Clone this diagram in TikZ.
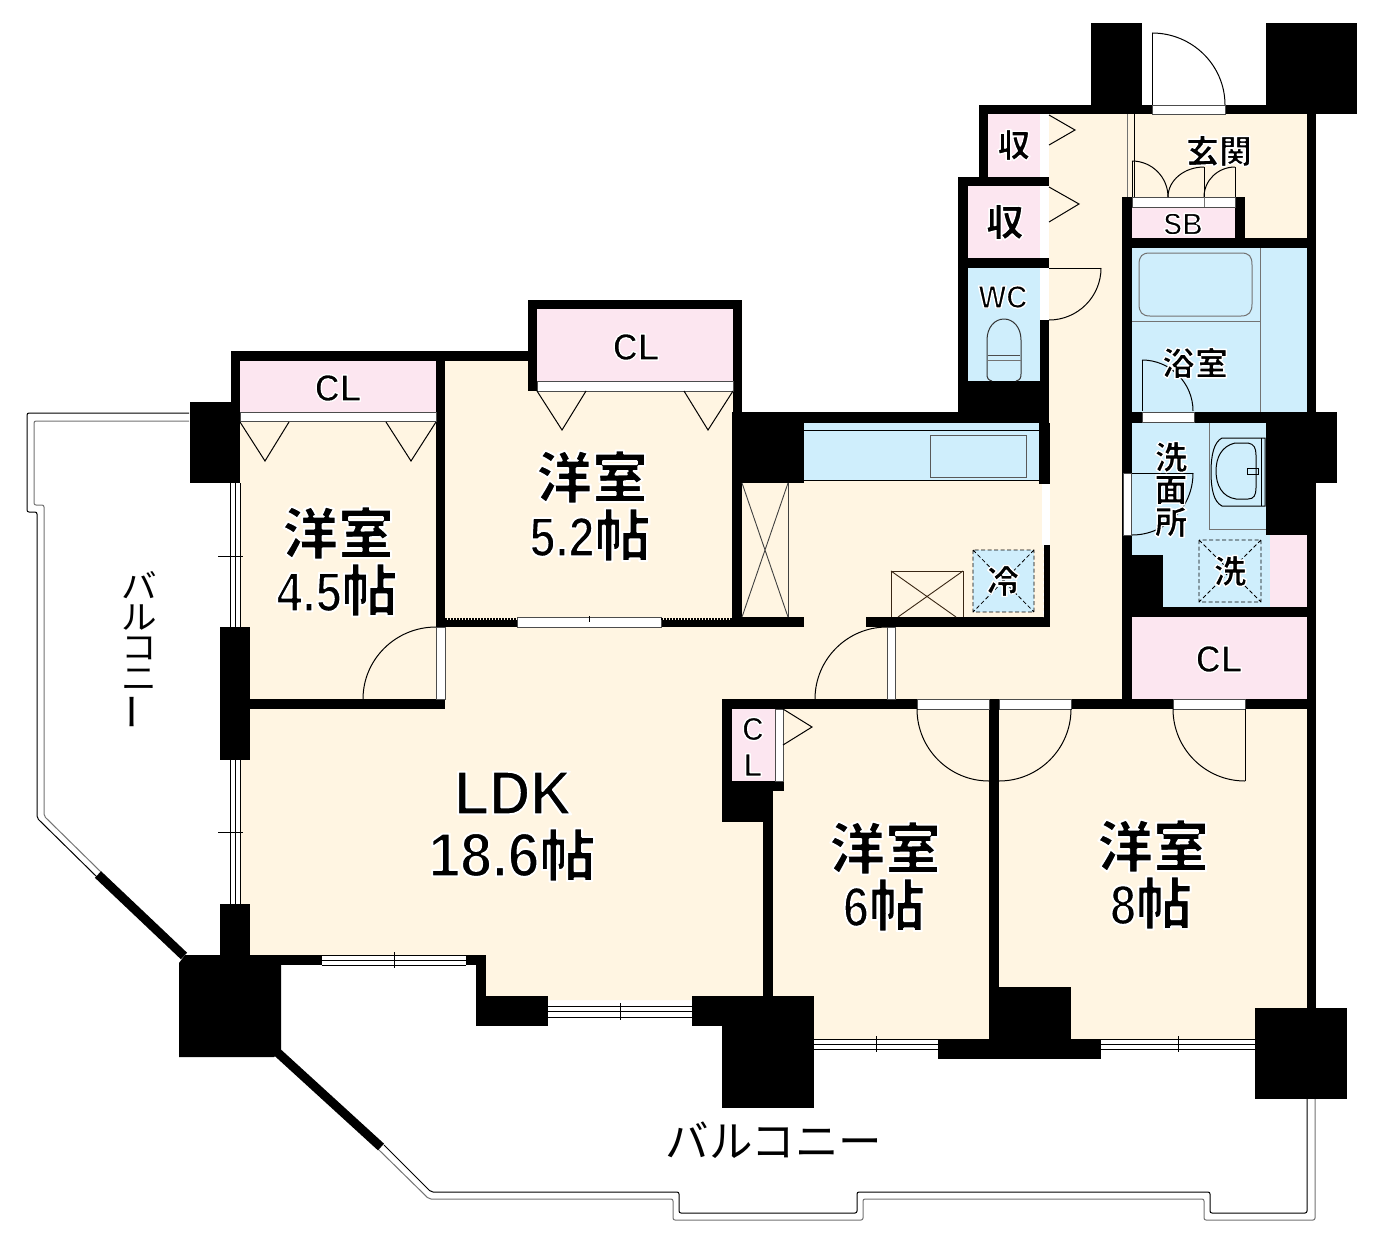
\documentclass[tikz,border=0pt]{standalone}
\usepackage{fontspec}
\usetikzlibrary{calc}
\newfontfamily\jpf{Noto Sans CJK JP}
\newfontfamily\latf[FakeStretch=0.84]{Liberation Sans}
\newfontfamily\latg[FakeStretch=0.92]{Liberation Sans}
\definecolor{creamc}{HTML}{FFF5E2}
\definecolor{pinkc}{HTML}{FCE6F0}
\definecolor{bluec}{HTML}{CFEEFC}
\tikzset{
  wall/.style={fill=black,draw=none},
  opening/.style={fill=white,draw=black!70,line width=.5pt},
  thinln/.style={draw=black,line width=1pt},
  greyln/.style={draw=black!55,line width=1pt},
  rail/.style={draw=black,line width=1pt,rounded corners=2pt},
  railg/.style={draw=black!55,line width=1pt,rounded corners=2pt},
  big/.style={inner sep=0pt,font=\jpf\bfseries\fontsize{56}{56}\selectfont},
  small/.style={inner sep=0pt,font=\jpf\bfseries\fontsize{33}{33}\selectfont},
}
\newcommand\wl[4]{\fill[wall] (#1,#2) rectangle (#3,#4);}
\newcommand\hv[4]{\draw[thinln] (#1,#2) .. controls ($(#1,#2)!0.552!(#3,#2)$) and ($(#3,#4)!0.552!(#3,#2)$) .. (#3,#4);}
\newcommand\wh[4]{\fill[white] (#1,#2) rectangle (#3,#4);\draw[thinln,line width=.8pt] (#1,#2) -- (#3,#2) (#1,#4) -- (#3,#4) (#1,{(#2+#4)/2}) -- (#3,{(#2+#4)/2});}
\newcommand\wv[4]{\fill[white] (#1,#2) rectangle (#3,#4);\draw[thinln,line width=.8pt] (#1,#2) -- (#1,#4) (#3,#2) -- (#3,#4) ({(#1+#3)/2},#2) -- ({(#1+#3)/2},#4);}
% one copy of the text: black fill with a white stroke round it
\newcommand\hal[2]{\special{pdf:code 1 j 2 Tr 1 1 1 RG #1 w}#2\special{pdf:code 0 Tr 0 j 0 0 0 RG 1 w}}
\newcommand\hlb[1]{\hal{2.0}{#1}}
\newcommand\hls[1]{\hal{1.4}{#1}}
\newcommand\numh[2]{{\latf\bfseries\fontsize{#1}{#1}\selectfont #2}}
\newcommand\numg[2]{{\latg\bfseries\fontsize{#1}{#1}\selectfont #2}}
\newcommand\widek[1]{\scalebox{1.08}[1]{#1}}
\begin{document}
\begin{tikzpicture}[x=1pt,y=-1pt]
\useasboundingbox (0,0) rectangle (1391,1239);
\fill[white] (0,0) rectangle (1391,1239);
% floor
\fill[creamc] (240,360) -- (528,360) -- (528,300) -- (742,300) -- (742,412) -- (1049,412) -- (1049,105) -- (1316,105) -- (1316,1040) -- (814,1040) -- (814,1000) -- (476,1000) -- (476,960) -- (240,960) -- cycle;
% pink rooms
\fill[pinkc] (988,114) rectangle (1040,177);
\fill[pinkc] (968,186) rectangle (1040,258);
\fill[pinkc] (1132,207) rectangle (1235,238);
\fill[pinkc] (240,361) rectangle (436,412);
\fill[pinkc] (537,309) rectangle (733,381);
\fill[pinkc] (732,709) rectangle (775,781);
\fill[pinkc] (1132,617) rectangle (1307,699);
% blue rooms
\fill[bluec] (968,268) rectangle (1040,381);
\fill[bluec] (1132,248) rectangle (1307,412);
\fill[bluec] (1132,423) rectangle (1307,607);
\fill[pinkc] (1270,535) rectangle (1307,607);
\fill[bluec] (804,423) rectangle (1039,480);
\fill[bluec] (973,550) rectangle (1034,612);
% balcony rails
\draw[rail] (189,413) -- (27,413) -- (27,512) -- (37,512) -- (37,818) -- (97,877);
\draw[railg] (189,421) -- (34,421) -- (34,505) -- (44,505) -- (44,816) -- (101,872);
\draw[rail] (384,1145) -- (431,1192) -- (679,1192) -- (679,1213) -- (857,1213) -- (857,1192) -- (1210,1192) -- (1210,1213) -- (1307,1213) -- (1307,1099);
\draw[railg] (378,1149) -- (429,1199) -- (673,1199) -- (673,1220) -- (863,1220) -- (863,1199) -- (1204,1199) -- (1204,1220) -- (1315,1220) -- (1315,1099);
\draw[line width=9pt] (98,874.5) -- (184,956);
\draw[line width=9pt] (277,1052) -- (381,1147);
% windows
\wv{230}{483}{240}{627}
\wv{230}{760}{240}{904}
\draw[thinln] (218,556) -- (243,556) (218,832) -- (243,832);
\wh{322}{955}{466}{965}
\draw[thinln] (394,952) -- (394,968);
\wh{547}{1006}{692}{1017}
\draw[thinln] (620,1003) -- (620,1020);
\wh{814}{1039}{938}{1049}
\draw[thinln] (876,1036) -- (876,1052);
\wh{1101}{1039}{1256}{1049}
\draw[thinln] (1178,1036) -- (1178,1052);
% walls
\wl{979}{105}{1091}{114}
\wl{1091}{23}{1142}{114}
\wl{1142}{105}{1266}{114}
\wl{1266}{23}{1357}{114}
\wl{979}{105}{988}{177}
\wl{958}{177}{1049}{186}
\wl{958}{177}{968}{413}
\wl{958}{258}{1049}{268}
\wl{958}{381}{1049}{413}
\wl{1040}{320}{1049}{413}
\wl{732}{412}{1049}{423}
\wl{732}{412}{804}{483}
\wl{732}{412}{742}{627}
\wl{1039}{423}{1049.5}{484}
\wl{1044}{545}{1049.5}{627}
\wl{866}{617}{1049.5}{627}
\wl{732}{617}{804}{627}
\wl{733}{300}{742}{412}
\wl{528}{300}{742}{309}
\wl{528}{300}{537}{391}
\wl{231}{351}{528}{361}
\wl{231}{351}{240}{412}
\wl{189.5}{402}{240}{483}
\wl{436}{351}{445}{627}
\wl{220}{699}{445}{709}
\wl{445}{620}{517}{627}
\wl{661}{620}{733}{627}
\wl{220}{627}{250}{760}
\wl{220}{904}{250}{957}
\fill[wall] (185,955) -- (281,955) -- (281,1050) -- (274,1057) -- (179,1057) -- (179,963) -- cycle;
\wl{281}{955}{322}{965}
\wl{466}{955}{486}{965}
\wl{476}{955}{486}{996}
\wl{476}{996}{547.5}{1026}
\wl{692}{996}{722}{1026}
\wl{722}{996}{814}{1108}
\wl{763}{822}{773}{996}
\wl{722}{791}{773}{822}
\wl{722}{699}{732}{791}
\wl{722}{781}{784}{791}
\wl{722}{699}{1316}{709}
\wl{989}{699}{999}{1000}
\wl{989}{987}{1071}{1040}
\wl{938}{1039}{1101}{1059}
\wl{1255}{1008}{1347}{1099}
\wl{1307}{105}{1316}{1008}
\wl{1122}{197}{1132}{709}
\wl{1122}{197}{1132}{238}
\wl{1235}{197}{1245}{238}
\wl{1122}{238}{1316}{248}
\wl{1122}{412}{1316}{423}
\wl{1122}{607}{1316}{617}
\wl{1266}{412}{1337}{483}
\wl{1266}{483}{1316}{535}
\wl{1132}{555}{1163}{607}
% openings
\fill[opening] (1152,105) rectangle (1225,114);
\fill[white] (1040,114) rectangle (1049,177);
\fill[white] (1040,186) rectangle (1049,258);
\fill[white] (1040,268) rectangle (1049,320);
\filldraw[opening] (1132,197) rectangle (1235,207);
\draw[greyln] (1204,197) -- (1204,207);
\filldraw[opening] (240,412) rectangle (436,421);
\filldraw[opening] (537,381) rectangle (733,391);
\filldraw[opening] (436,627) rectangle (445,699);
\filldraw[opening] (517,617) rectangle (661,627);
\draw[thinln,line width=.8pt] (589,616) -- (589,622);
\draw[black,line width=2.5pt,dash pattern=on 1.5pt off 1.5pt] (445,619) -- (517,619) (661,619) -- (733,619);
\fill[white] (1042,484) rectangle (1049.5,545);
\draw[white,line width=1pt,dashed] (1043,545) -- (1043,617);
\filldraw[opening] (1142,412) rectangle (1194,422);
\filldraw[opening] (1123.5,473) rectangle (1131.5,535);
\filldraw[opening] (775,709) rectangle (783,781);
\filldraw[opening] (917,699) rectangle (989,709);
\filldraw[opening] (999,699) rectangle (1071,709);
\filldraw[opening] (1173,699) rectangle (1245,709);
\filldraw[opening] (887,627) rectangle (895,699);
% doors
\draw[thinln] (1152,33) -- (1152,105);
\hv{1152}{33}{1225}{105}
\draw[thinln] (1049,268) -- (1101,268);
\hv{1049}{320}{1101}{268}
\draw[greyln] (1127,114) -- (1127,197);
\draw[thinln] (1134,114) -- (1134,197);
\draw[thinln] (1132,161) -- (1132,197) (1204,167) -- (1204,197) (1235,167) -- (1235,197);
\hv{1132}{161}{1168}{197}
\hv{1204}{167}{1168}{197}
\hv{1235}{167}{1204}{197}
\draw[thinln] (1142,411) -- (1142,360);
\hv{1142}{360}{1193}{411}
\draw[thinln] (1132,473) -- (1193,473);
\hv{1132}{535}{1193}{473}
\hv{887}{627}{815}{699}
\hv{436}{627}{363}{699}
\hv{989}{781}{917}{709}
\hv{999}{781}{1071}{709}
\hv{1245}{781}{1173}{709}
\draw[thinln] (1245,709) -- (1245,781);
% closet arrows
\draw[thinln] (1049,115) -- (1075,130) -- (1049,145);
\draw[thinln] (1049,187) -- (1079,204) -- (1049,222);
\draw[thinln] (240,422) -- (265,461) -- (289,422);
\draw[thinln] (386,422) -- (411,461) -- (436,422);
\draw[thinln] (537,391) -- (562,430) -- (586,391);
\draw[thinln] (684,391) -- (708,430) -- (733,391);
\draw[thinln] (783,709) -- (812,727) -- (783,745);
% bath
\draw[greyln] (1132,321) -- (1260,321);
\draw[greyln] (1260,248) -- (1260,412);
\draw[greyln] (1139,265) .. controls (1139,256) and (1142,253) .. (1150,253) -- (1241,253) .. controls (1249,253) and (1252,256) .. (1252,265) -- (1252,304) .. controls (1252,312) and (1249,316) .. (1241,316) -- (1150,316) .. controls (1142,316) and (1139,312) .. (1139,304) -- cycle;
% toilet
\draw[thinln,draw=black!80] (992,381) .. controls (988,380) and (987,378) .. (987,374) -- (987,340) .. controls (987,327) and (995,319) .. (1004,319) .. controls (1013,319) and (1021,327) .. (1021,340) -- (1021,374) .. controls (1021,378) and (1020,380) .. (1016,381);
\draw[greyln] (987,360) -- (1021,360);
\draw[thinln,draw=black!70] (988,355) -- (1020,355);
% kitchen
\draw[thinln] (804,430) -- (1039,430);
\draw[thinln] (804,480) -- (1039,480);
\draw[draw=black!65,line width=1pt] (930.5,435) rectangle (1026,477);
\draw[black!75,line width=.9pt] (788,483) -- (788,617);
\draw[black!75,line width=.9pt] (742,483) -- (788,617) (788,483) -- (742,617);
\draw[draw=black!70!brown,line width=1pt] (891,617) -- (891,571) -- (963,571) -- (963,617);
\draw[draw=black!70!brown,line width=.9pt] (891,571) -- (956,617) (963,571) -- (898,617);
\draw[black,line width=.8pt,dash pattern=on 4pt off 2.5pt] (973,550) rectangle (1034,612) (973,550) -- (1034,612) (1034,550) -- (973,612);
% washroom
\draw[greyln] (1209,423) -- (1209,529) -- (1266,529);
\draw[thinln] (1265,438) -- (1222,438) .. controls (1214,442) and (1211,455) .. (1211,472) .. controls (1211,490) and (1214,502) .. (1222,506) -- (1265,506) -- cycle;
\draw[thinln] (1261,438) -- (1261,506);
\draw[thinln] (1235,443) -- (1248,443) .. controls (1254,444) and (1256,448) .. (1256,455) -- (1256,488) .. controls (1256,495) and (1254,499) .. (1248,499) -- (1236,499) .. controls (1222,497) and (1216,485) .. (1216,471) .. controls (1216,457) and (1222,446) .. (1235,443) -- cycle;
\draw[thinln] (1247,468) rectangle (1258,474);
\draw[black,line width=.8pt,dash pattern=on 4pt off 2.5pt] (1199,540) rectangle (1261,602) (1199,540) -- (1261,602) (1261,540) -- (1199,602);
% labels
\node[big] (r45a) at (338,533) {\hlb{洋室}};
\node[big] (r45b) at (337,590) {\hlb{\numh{56}{4.5}帖}};
\node[big] (r52a) at (592,477) {\hlb{洋室}};
\node[big] (r52b) at (590,535) {\hlb{\numh{56}{5.2}帖}};
\node[big] (ldka) at (513,793) {\hlb{\numg{62}{LDK}}};
\node[big] (ldkb) at (512,855) {\hlb{\numg{62}{18.6}帖}};
\node[big] (r6a) at (885,848) {\hlb{洋室}};
\node[big] (r6b) at (884,905) {\hlb{\numh{56}{6}帖}};
\node[big] (r8a) at (1153,846) {\hlb{洋室}};
\node[big] (r8b) at (1151,903) {\hlb{\numh{56}{8}帖}};
\node[small] (cl1) at (338,388) {\hls{\numg{38}{CL}}};
\node[small] (cl2) at (636,347) {\hls{\numg{38}{CL}}};
\node[small] (cl3) at (1219,659) {\hls{\numg{38}{CL}}};
\node[small] (shu1) at (1014,145) {\hls{収}};
\node[small,font=\jpf\bfseries\fontsize{38}{38}\selectfont] (shu2) at (1005,222) {\hls{収}};
\node[small] (wc) at (1003,297) {\hls{\numg{32}{WC}}};
\node[small] (gen) at (1219,151) {\hls{玄関}};
\node[small] (sb) at (1183,224) {\hls{\numg{31}{SB}}};
\node[small] (yoku) at (1195,363) {\hls{浴室}};
\node[small] (sen1) at (1171,457) {\hls{洗}};
\node[small] (sen2) at (1171,490) {\hls{面}};
\node[small] (sen3) at (1171,522) {\hls{所}};
\node[small] (sen) at (1230,571) {\hls{洗}};
\node[small] (rei) at (1003,581) {\hls{冷}};
\node[small] (cs1) at (753,729) {\hls{\numg{33}{C}}};
\node[small] (cs2) at (753,765) {\hls{\numg{33}{L}}};
\node[inner sep=0pt,font=\jpf\fontsize{43.5}{43.5}\selectfont] (balb) at (774,1140) {バルコニー};
\node[inner sep=0pt,align=center,font=\jpf\fontsize{33}{30.5}\selectfont] (ball) at (139,651) {\widek{バ}\\\widek{ル}\\\widek{コ}\\\widek{ニ}\\\rotatebox[origin=c]{90}{\scalebox{1.12}[1.3]{ー}}};
\end{tikzpicture}
\end{document}
